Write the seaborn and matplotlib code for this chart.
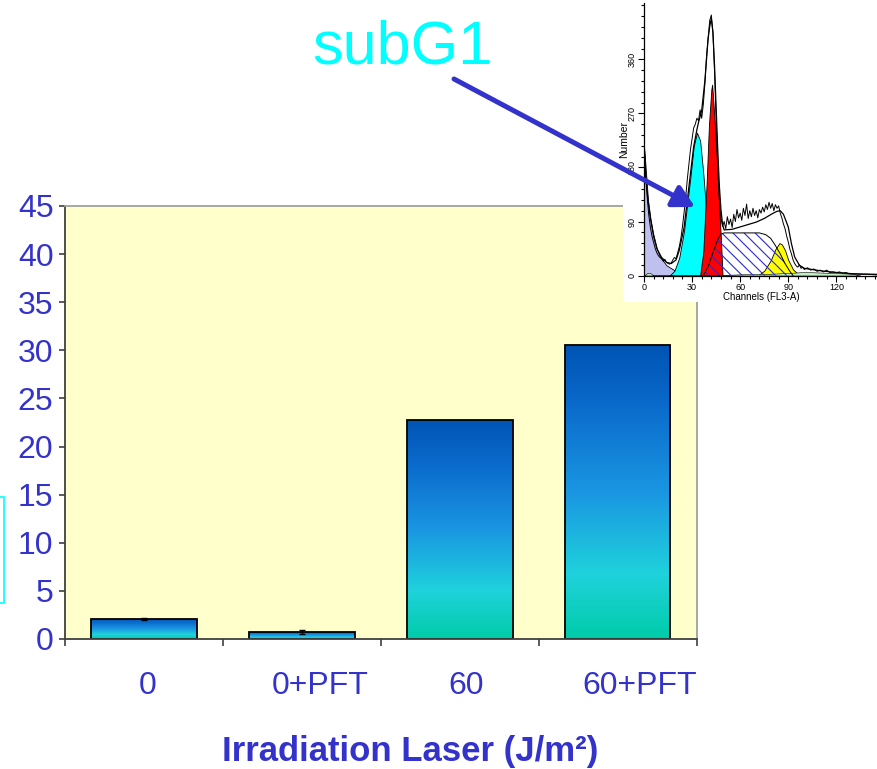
#subG1 fraction after laser irradiation, with flow cytometry inset
import numpy as np
import pandas as pd
import seaborn as sns
import matplotlib
matplotlib.use("Agg")
import matplotlib.pyplot as plt
from matplotlib.colors import LinearSegmentedColormap
from matplotlib.patches import Rectangle, FancyArrowPatch
from matplotlib.ticker import MultipleLocator
from matplotlib.transforms import ScaledTranslation

plt.rcParams["font.family"] = ["Liberation Sans", "DejaVu Sans"]
plt.rcParams["hatch.linewidth"] = 0.8

#Bar data (percent of cells in subG1)
groups = ["0", "0+PFT", "60", "60+PFT"]
subg1_pct = [2.1, 0.75, 22.8, 30.5]
subg1_err = [0.08, 0.22, 0.0, 0.0]

#Inset: DNA histogram (channel, count)
raw_ch = list(range(0, 101)) + [102, 104, 106, 108, 110, 112, 114, 116, 118, 120,
                                122, 124, 126, 128, 130, 135, 140, 145]
raw_n = [215, 175, 130, 100, 80, 65, 55, 45, 38, 33,
         30, 28, 24, 27, 22, 20, 19, 21, 26, 30,
         28, 38, 48, 62, 82, 105, 130, 160, 185, 210,
         228, 246, 252, 262, 258, 276, 262, 285, 320, 365,
         395, 425, 434, 405, 340, 260, 185, 128, 96, 82,
         90, 78, 98, 85, 94, 80, 102, 90, 110, 96,
         104, 92, 112, 100, 119, 95, 108, 98, 112, 100,
         108, 96, 110, 104, 114, 106, 118, 110, 122, 112,
         120, 108, 118, 112, 116, 104, 96, 86, 78, 66,
         56, 44, 36, 26, 20, 16, 14, 18, 12, 14,
         10, 13, 9, 11, 7, 9, 6, 9, 5, 6,
         5, 6, 4, 5, 3, 3, 2, 2, 1]

fit_ch = [0, 0.5, 1, 2.5, 4, 6, 8, 11, 14, 17, 20, 22, 25, 27, 29, 31, 33, 34, 36,
          38, 40, 41, 42, 43, 44, 45, 46, 47, 48, 49, 50, 55, 60, 65, 70, 75, 80,
          83, 85, 87, 90, 92, 94, 97, 100, 110, 120, 130, 145]
fit_n = [215, 200, 165, 125, 95, 65, 45, 30, 22, 20, 26, 42, 80, 125, 170, 215, 243, 255, 275,
         325, 395, 415, 428, 405, 350, 280, 210, 150, 110, 85, 76, 77, 81, 85, 89, 95, 103,
         107, 108, 102, 81, 53, 31, 17, 12, 8, 5, 3, 2]

debris_ch = [0, 1, 2.5, 4, 5.7, 8, 10, 14, 19.5, 24]
debris_n = [215, 180, 125, 95, 70, 45, 31, 17, 8, 0]

sub_ch = [16, 19, 22, 25, 27, 29, 31, 33, 35, 37, 39, 41, 43, 45]
sub_n = [0, 8, 30, 75, 120, 165, 215, 238, 225, 170, 100, 45, 12, 0]

g1_ch = [35, 37, 39, 40.5, 42, 42.5, 43, 44.5, 45.7, 47, 48, 49]
g1_n = [0, 40, 150, 250, 310, 318, 300, 240, 180, 110, 60, 0]

g2_ch = [71, 75, 79, 82, 84.5, 86, 88, 90, 93, 96, 99]
g2_n = [0, 8, 25, 44, 54, 52, 42, 26, 10, 3, 0]

s_ch = [37, 40, 43, 46, 48, 50, 72, 76, 79, 82, 85, 88, 91, 93]
s_n = [0, 15, 38, 60, 69, 71, 71, 68, 62, 50, 36, 20, 7, 0]

agg_ch = [0, 2, 4, 6, 40, 60, 80, 95, 100, 110, 120, 130, 135]
agg_n = [0, 4, 4, 0, 0, 2, 3, 5, 6, 5, 4, 3, 0]

text_blue = "#3333cc"

fig = plt.figure(figsize=(8.78, 7.69), dpi=100)

#Main bar chart
ax = fig.add_axes([0.0740, 0.1691, 0.7193, 0.5631])
ax.set_facecolor("#ffffcc")
df = pd.DataFrame({"dose": groups, "pct": subg1_pct})
sns.barplot(data=df, x="dose", y="pct", ax=ax, width=0.67,
            edgecolor="black", linewidth=1.3, errorbar=None)

#Vertical gradient inside each bar
bar_cmap = LinearSegmentedColormap.from_list(
    "bar", [(0, "#00cca8"), (0.22, "#1fd2dc"), (0.5, "#1a96e2"),
            (0.8, "#0a6acb"), (1, "#0054b4")])
grad = np.linspace(0, 1, 256).reshape(-1, 1)
for bar in list(ax.patches):
    x0, y0 = bar.get_xy()
    w, h = bar.get_width(), bar.get_height()
    im = ax.imshow(grad, extent=[x0, x0 + w, y0, y0 + h], origin="lower",
                   aspect="auto", cmap=bar_cmap, zorder=bar.get_zorder() - 0.1)
    im.set_clip_path(bar)
    bar.set_facecolor("none")

err = np.array(subg1_err)
has_err = err > 0
ax.errorbar(np.arange(len(groups))[has_err], np.array(subg1_pct)[has_err],
            yerr=err[has_err], fmt="none", ecolor="black",
            elinewidth=1, capsize=2.5, capthick=1, zorder=5)

ax.set_xlim(-0.5, 3.5)
ax.set_ylim(0, 45)
ax.set_yticks(range(0, 46, 5))
ax.set_ylabel("")
ax.set_xticks([-0.5, 0.5, 1.5, 2.5, 3.5], minor=True)
ax.tick_params(axis="y", length=4.3, width=1.2, color="#404040",
               labelcolor=text_blue, labelsize=23, pad=4)
ax.tick_params(axis="x", which="major", length=0, labelcolor=text_blue,
               labelsize=23, pad=23)
ax.tick_params(axis="x", which="minor", length=5, width=1.2, color="#404040")
for side in ["left", "bottom"]:
    ax.spines[side].set_color("#404040")
    ax.spines[side].set_linewidth(1.3)
for side in ["top", "right"]:
    ax.spines[side].set_color("#a0a0a0")
    ax.spines[side].set_linewidth(1.3)

ax.set_xlabel("Irradiation Laser (J/m²)", fontsize=25, fontweight="bold",
              color=text_blue, va="center")
ax.xaxis.set_label_coords(0.546, -0.261)

#White box behind the inset
fig.add_artist(Rectangle((0.7096, 0.6073), 0.2904, 0.3927, transform=fig.transFigure,
                         facecolor="white", edgecolor="none", zorder=1))

#Inset histogram
ins = fig.add_axes([0.7335, 0.6417, 0.2665, 0.3544], zorder=2)
ins.set_facecolor("white")
ins.fill_between(debris_ch, debris_n, facecolor="#c0c0f0", edgecolor="black", lw=0.6)
ins.fill_between(sub_ch, sub_n, facecolor="#00ffff", edgecolor="black", lw=0.6)
ins.fill_between(g1_ch, g1_n, facecolor="#ff0000", edgecolor="black", lw=0.6)
ins.fill_between(g2_ch, g2_n, facecolor="#ffff00", edgecolor="black", lw=0.6)
ins.fill_between(agg_ch, agg_n, facecolor="#c0f0c0", edgecolor="black", lw=0.4)
ins.fill_between(s_ch, s_n, facecolor="none", edgecolor="#2a2ad8", hatch="\\\\\\", lw=0)
ins.plot(s_ch, s_n, color="black", lw=0.7)
ins.plot(fit_ch, fit_n, color="black", lw=0.9)
sns.lineplot(x=raw_ch, y=raw_n, ax=ins, color="black", lw=0.7,
             estimator=None, sort=False)

ins.set_xlim(0, 146)
ins.set_ylim(0, 454)
ins.set_xticks([0, 30, 60, 90, 120])
ins.set_yticks([0, 90, 180, 270, 360])
ins.xaxis.set_minor_locator(MultipleLocator(6))
ins.yaxis.set_minor_locator(MultipleLocator(18))
ins.tick_params(which="major", length=4, width=0.8, labelsize=6.5, pad=1.5)
ins.tick_params(which="minor", length=2.5, width=0.8)
ins.tick_params(axis="y", labelrotation=90)
for lab in ins.get_yticklabels():
    lab.set_va("center")
ins.spines["top"].set_visible(False)
ins.spines["right"].set_visible(False)
ins.spines["left"].set_linewidth(0.9)
ins.spines["bottom"].set_linewidth(0.9)
ins.set_ylabel("Number", fontsize=7.5, labelpad=-1)
ins.set_xlabel("Channels (FL3-A)", fontsize=7, labelpad=0)

#Annotation: subG1 label and arrow pointing into the inset
fig.text(402 / 878, 1 - 63 / 769, "subG1", color="#00ffff", fontsize=44,
         ha="center", va="baseline")
fig.add_artist(FancyArrowPatch((0.5171, 0.8973), (0.7916, 0.7308),
                               transform=fig.transFigure,
                               arrowstyle="-|>,head_length=0.65,head_width=0.35",
                               mutation_scale=20, color=text_blue, lw=3.6,
                               shrinkA=0, shrinkB=0, zorder=10))

#Clipped outline box at the left edge
fig.add_artist(Rectangle((-0.005, 1 - 603 / 769), 0.009, 106 / 769,
                         transform=fig.transFigure, fill=False,
                         edgecolor="#00ffff", lw=1.2, zorder=3))

#Category labels sit a little right of the bar centres in the original
fig.canvas.draw()
renderer = fig.canvas.get_renderer()
for lab in ax.get_xticklabels():
    shift = 0.19 * lab.get_window_extent(renderer).width / fig.dpi
    lab.set_transform(lab.get_transform() + ScaledTranslation(shift, 0, fig.dpi_scale_trans))

fig.savefig("out.png", dpi=100)
